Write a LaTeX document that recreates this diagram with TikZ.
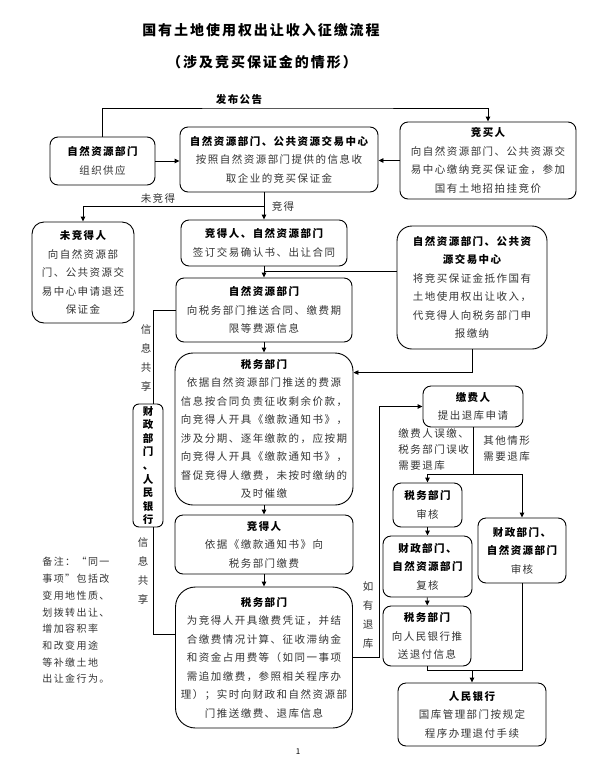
\documentclass[tikz,border=0pt]{standalone}
\usepackage{fontspec}
\usetikzlibrary{arrows.meta}
\newfontfamily\zh[LetterSpace=14]{Noto Sans CJK SC}
\newcommand{\hd}[1]{{\bfseries\color{black}#1}}
\tikzset{bx/.append style={draw, rounded corners=8pt, align=center, inner sep=0pt, text=black!80, font=\zh\fontsize{10.5}{18.5}\selectfont}}
\tikzset{lb/.append style={inner sep=0pt, align=left, text=black!80, font=\zh\fontsize{10.5}{16}\selectfont}}
\tikzset{vt/.append style={inner sep=0pt, align=center, text=black!80, font=\zh\fontsize{10.5}{19}\selectfont}}
\tikzset{ar/.append style={-{Triangle[length=5pt,width=4.5pt]}}}

\begin{document}
\begin{tikzpicture}[x=1pt,y=-1pt,line width=0.9pt]
                \path[use as bounding box] (0,0) rectangle (600,764);
                % title
                \node[font=\zh\bfseries\fontsize{14}{16}\selectfont] (title) at (261,30) {国有土地使用权出让收入征缴流程};
                \node[font=\zh\bfseries\fontsize{14}{16}\selectfont] (subtitle) at (262,62) {（涉及竞买保证金的情形）};
                % boxes
                \node[bx,minimum width=105pt,minimum height=48pt] (supply) at (102.5,161) {\hd{自然资源部门}\\组织供应};
                \node[bx,minimum width=198pt,minimum height=65pt] (collect) at (279,159.5) {\hd{自然资源部门、公共资源交易中心}\\按照自然资源部门提供的信息收\\取企业的竞买保证金};
                \node[bx,minimum width=176pt,minimum height=77pt] (bidder) at (488,160.5) {\hd{竞买人}\\向自然资源部门、公共资源交\\易中心缴纳竞买保证金，参加\\国有土地招拍挂竞价};
                \node[bx,rounded corners=12pt,minimum width=102pt,minimum height=101pt] (loser) at (83,272.5) {\hd{未竞得人}\\向自然资源部\\门、公共资源交\\易中心申请退还\\保证金};
                \node[bx,minimum width=166pt,minimum height=46pt] (contract) at (264,243) {\hd{竞得人、自然资源部门}\\签订交易确认书、出让合同};
                \node[bx,minimum width=176pt,minimum height=64pt] (push) at (264,310) {\hd{自然资源部门}\\向税务部门推送合同、缴费期\\限等费源信息};
                \node[bx,rounded corners=15pt,minimum width=150pt,minimum height=123pt] (offset) at (472,287.5) {\hd{自然资源部门、公共资}\\\hd{源交易中心}\\将竞买保证金抵作国有\\土地使用权出让收入，\\代竞得人向税务部门申\\报缴纳};
                \node[bx,rounded corners=18pt,minimum width=178pt,minimum height=152pt] (tax) at (264,429) {\hd{税务部门}\\依据自然资源部门推送的费源\\信息按合同负责征收剩余价款，\\向竞得人开具《缴款通知书》，\\涉及分期、逐年缴款的，应按期\\向竞得人开具《缴款通知书》，\\督促竞得人缴费，未按时缴纳的\\及时催缴};
                \node[bx,minimum width=178pt,minimum height=59pt] (pay) at (264,544.5) {\hd{竞得人}\\依据《缴款通知书》向\\税务部门缴费};
                \node[bx,rounded corners=20pt,minimum width=177pt,minimum height=141pt] (receipt) at (264,657.5) {\hd{税务部门}\\为竞得人开具缴费凭证，并结\\合缴费情况计算、征收滞纳金\\和资金占用费等（如同一事项\\需追加缴费，参照相关程序办\\理）；实时向财政和自然资源部\\门推送缴费、退库信息};
                \node[bx,rounded corners=6pt,minimum width=30pt,minimum height=123pt,font=\zh\bfseries\fontsize{10.5}{13.6}\selectfont,text=black] (share) at (148,465.5) {财\\政\\部\\门\\、\\人\\民\\银\\行};
                \node[bx,minimum width=100pt,minimum height=41pt] (refund) at (473,406.5) {\hd{缴费人}\\提出退库申请};
                \node[bx,minimum width=69pt,minimum height=44pt] (taxaudit) at (427.5,505) {\hd{税务部门}\\审核};
                \node[bx,minimum width=89pt,minimum height=61pt] (recheck) at (427.5,566.5) {\hd{财政部门、}\\\hd{自然资源部门}\\复核};
                \node[bx,minimum width=88pt,minimum height=60pt] (notify) at (427,636) {\hd{税务部门}\\向人民银行推\\送退付信息};
                \node[bx,minimum width=88pt,minimum height=65pt] (finaudit) at (522,550.5) {\hd{财政部门、}\\\hd{自然资源部门}\\审核};
                \node[bx,minimum width=148pt,minimum height=63pt] (bank) at (472,714.5) {\hd{人民银行}\\国库管理部门按规定\\程序办理退付手续};
                % labels
                \node[lb] (notice) at (239,99) {\hd{发布公告}};
                \node[lb] (lost) at (158,198) {未竞得};
                \node[lb] (won) at (283,206) {竞得};
                \node[vt] (share1) at (146,358.5) {信\\息\\共\\享};
                \node[vt] (share2) at (143,571.5) {信\\息\\共\\享};
                \node[vt] (ifrefund) at (368,615) {如\\有\\退\\库};
                \node[lb,anchor=north west] (wrong) at (398,428) {缴费人误缴、\\税务部门误收\\需要退库};
                \node[lb,anchor=north west] (other) at (483,435) {其他情形\\需要退库};
                \node[lb,anchor=north west,font=\zh\fontsize{10}{16.7}\selectfont] (note) at (42,557) {备注：“同一\\事项”包括改\\变用地性质、\\划拨转出让、\\增加容积率\\和改变用途\\等补缴土地\\出让金行为。};
                \node[font=\zh\fontsize{8}{9}\selectfont] (page) at (298,752) {1};
                % connectors
                \coordinate (top) at (300,108);
                \coordinate (fork) at (264,206);
                \coordinate (join) at (264,271);
                \coordinate (rfork) at (473,474);
                \coordinate (bfork) at (472,670);
                \draw[ar] (supply.north) |- (top) -| (bidder.north);
                \draw[ar] (supply.east) -- (supply.east -| collect.west);
                \draw[ar] (bidder.west) -- (bidder.west -| collect.east);
                \draw[ar] (collect.south -| contract.north) -- (contract.north);
                \draw[ar] (fork) -| (loser.north);
                \draw[ar] (contract) -- (push);
                \draw (offset.west |- join) -- (join);
                \draw[ar] (offset.south) |- ([yshift=-20pt]tax.north east);
                \draw[ar] (push) -- (tax);
                \draw[ar] (tax) -- (pay);
                \draw[ar] (pay) -- (receipt);
                \draw (push.west) -| ([xshift=5pt]share.north);
                \draw ([xshift=5pt]share.south) |- ([yshift=-48pt]receipt.north west);
                \draw[ar] (receipt.east) -- ++(26,0) |- (refund.west);
                \draw (refund.south) -- (rfork);
                \draw[ar] (rfork) -| (taxaudit.north);
                \draw[ar] (rfork) -| (finaudit.north);
                \draw[ar] (taxaudit) -- (recheck);
                \draw[ar] (recheck) -- (notify);
                \draw (notify.south) |- (bfork);
                \draw (finaudit.south) |- (bfork);
                \draw[ar] (bfork) -- (bank.north);
            \end{tikzpicture}
\end{document}
